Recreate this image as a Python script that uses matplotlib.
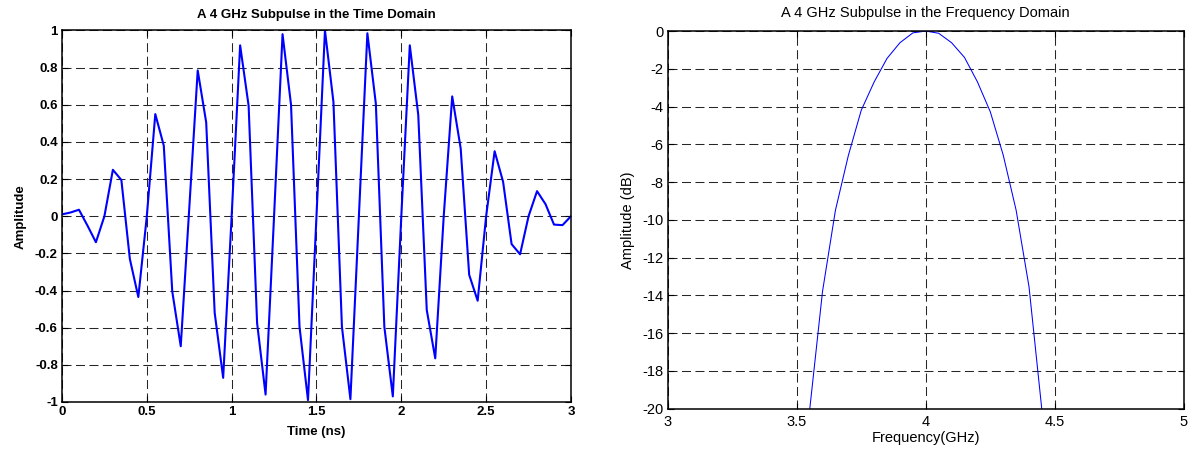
import numpy as np
import matplotlib
matplotlib.use("Agg")
import matplotlib.pyplot as plt
from matplotlib.ticker import FormatStrFormatter

plt.rcParams['font.family'] = ['Liberation Sans', 'DejaVu Sans']
plt.rcParams['axes.unicode_minus'] = False
plt.rcParams['lines.scale_dashes'] = False

# Time domain subpulse, sampled every 0.05 ns
time_ns = np.linspace(0, 3, 61)
amplitude = [
    0.01, 0.02, 0.035, -0.05, -0.14,
    0.0, 0.25, 0.195, -0.23, -0.435,
    0.0, 0.55, 0.38, -0.405, -0.70,
    0.04, 0.785, 0.505, -0.52, -0.87,
    0.0, 0.92, 0.595, -0.575, -0.96,
    0.0, 0.98, 0.60, -0.595, -0.99,
    0.0, 1.0, 0.615, -0.595, -0.985,
    0.0, 0.985, 0.605, -0.595, -0.97,
    0.0, 0.92, 0.545, -0.505, -0.765,
    0.0, 0.645, 0.365, -0.315, -0.455,
    0.0, 0.35, 0.185, -0.15, -0.205,
    0.0, 0.135, 0.065, -0.045, -0.048,
    0.0,
]

# Spectrum of the subpulse
freq_ghz = np.linspace(3.55, 4.45, 19)
gain_db = [-20.1, -13.8, -9.5, -6.6, -4.2, -2.7, -1.45, -0.62, -0.1, 0.0,
           -0.12, -0.62, -1.4, -2.69, -4.28, -6.57, -9.49, -13.55, -20.1]

time_ticks = [0, 0.5, 1, 1.5, 2, 2.5, 3]
amp_ticks = [-1, -0.8, -0.6, -0.4, -0.2, 0, 0.2, 0.4, 0.6, 0.8, 1]
freq_ticks = [3, 3.5, 4, 4.5, 5]
db_ticks = [-20, -18, -16, -14, -12, -10, -8, -6, -4, -2, 0]


def matlab_axes(ax, weight, size, xpad):
    ax.tick_params(direction='in', length=4, width=0.8, top=True, right=True,
                   labelsize=size, pad=3)
    ax.tick_params(axis='x', pad=xpad)
    for lbl in ax.get_xticklabels() + ax.get_yticklabels():
        lbl.set_fontweight(weight)
    for s in ax.spines.values():
        s.set_linewidth(1.1)
    ax.grid(True, color='0.15', linewidth=0.75, linestyle=(0, (6.5, 3.2)))
    ax.set_axisbelow(True)


fig = plt.figure(figsize=(11.92, 4.5), dpi=100)

# Left: time domain
ax1 = fig.add_axes([0.052, 0.1067, 0.427, 0.8256])
ax1.plot(time_ns, amplitude, color='#0000ff', linewidth=1.5)
ax1.set_xlim(0, 3)
ax1.set_ylim(-1, 1)
ax1.set_xticks(time_ticks)
ax1.set_yticks(amp_ticks)
ax1.xaxis.set_major_formatter(FormatStrFormatter('%g'))
ax1.yaxis.set_major_formatter(FormatStrFormatter('%g'))
matlab_axes(ax1, 'bold', 9.5, 3)
ax1.set_title('A 4 GHz Subpulse in the Time Domain', fontsize=9.5,
              fontweight='bold', pad=9)
ax1.set_xlabel('Time (ns)', fontsize=9.5, fontweight='bold', labelpad=6)
ax1.set_ylabel('Amplitude', fontsize=9.5, fontweight='bold', labelpad=6)

# Right: frequency domain
ax2 = fig.add_axes([0.5601, 0.0922, 0.4331, 0.8389])
ax2.plot(freq_ghz, gain_db, color='#0000ff', linewidth=0.75)
ax2.set_xlim(3, 5)
ax2.set_ylim(-20, 0)
ax2.set_xticks(freq_ticks)
ax2.set_yticks(db_ticks)
ax2.xaxis.set_major_formatter(FormatStrFormatter('%g'))
ax2.yaxis.set_major_formatter(FormatStrFormatter('%g'))
matlab_axes(ax2, 'normal', 10.5, 5)
ax2.set_title('A 4 GHz Subpulse in the Frequency Domain', fontsize=10.5, pad=10)
ax2.set_xlabel('Frequency(GHz)', fontsize=10.5, labelpad=1)
ax2.set_ylabel('Amplitude (dB)', fontsize=10.5, labelpad=5)

fig.savefig('out.png', dpi=100)
